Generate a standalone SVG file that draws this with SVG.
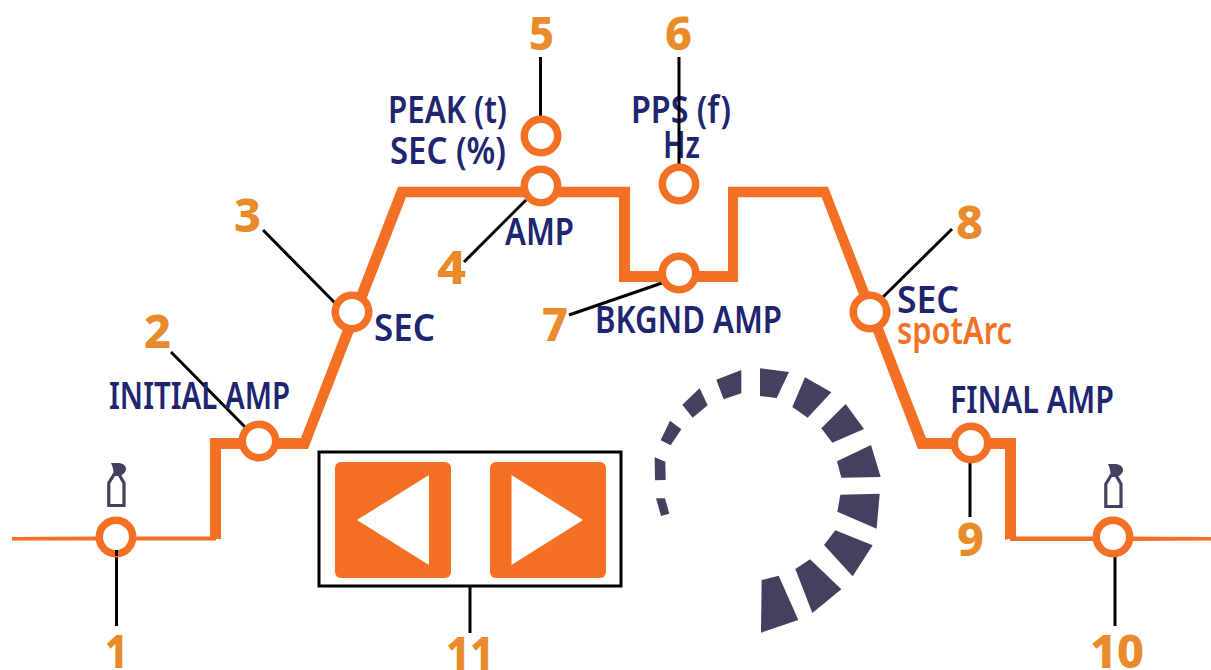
<svg xmlns="http://www.w3.org/2000/svg" xmlns:xlink="http://www.w3.org/1999/xlink" width="1211" height="670" viewBox="0 0 1211 670">
<style>
.lbl{font-family:"Noto Sans","Liberation Sans",sans-serif;font-weight:600;font-size:38px;fill:#20256f}
.org{fill:#f47024}
.num{font-family:"Noto Sans","Liberation Sans",sans-serif;font-weight:800;font-size:47px;fill:#e98b2a}
.ring{fill:#fff;stroke:#f47024;stroke-width:7.500}
.lead{stroke:#000;stroke-width:3;fill:none}
.dial polygon{fill:#463f60}
</style>
<defs>
<g id="bottle">
<path d="M108.800 505.500V483L114 474.500H119L124 483V505.500Z" fill="#fff" stroke="#463f60" stroke-width="3.200"/>
<path d="M111 463H119Q126 464 126 469Q126 473 120 476H113.500Q114 469 111 463Z" fill="#463f60"/>
</g>
</defs>
<g id="trace">
<path class="org" d="M12 537L100 536.500V540.500L12 540.500Z"/>
<path class="org" d="M130 536.500H216V540.500H130Z"/>
<path class="org" d="M1010 536.500H1100V541H1010Z"/>
<path class="org" d="M1125 536.500L1211 537V540.500L1125 541Z"/>
<path class="org" d="M210 539V438H301L398 186.700H630V271H728V186.700H828L926 438H1016V537L1005 540V449H918L821.700 197.300H738V282H619V197.300H406L308 449H221V539Z"/>
</g>
<g id="connectors">
<path class="lead" d="M116.500 550V626"/>
<path class="lead" d="M171 352L246 428"/>
<path class="lead" d="M263 230L335 303"/>
<path class="lead" d="M464 262L526 200"/>
<path class="lead" d="M540.500 57V117"/>
<path class="lead" d="M569 315L662 283"/>
<path class="lead" d="M879 301L952 229"/>
<path class="lead" d="M970 462V517"/>
<path class="lead" d="M1115 556V626"/>
<path class="lead" d="M470 587V633"/>
</g>
<g id="node-1"><circle class="ring" cx="116" cy="537" r="16.700"/><path class="lead" d="M116.500 550V556"/><use xlink:href="#bottle" href="#bottle"/><text class="num" x="105" y="668" textLength="23" lengthAdjust="spacingAndGlyphs">1</text></g>
<g id="node-2"><circle class="ring" cx="259" cy="441" r="16.700"/><text class="lbl" x="109" y="409" textLength="181" lengthAdjust="spacingAndGlyphs">INITIAL AMP</text><text class="num" x="144" y="348" textLength="27" lengthAdjust="spacingAndGlyphs">2</text></g>
<g id="node-3"><circle class="ring" cx="352" cy="312" r="16.700"/><text class="lbl" x="374" y="341" textLength="61" lengthAdjust="spacingAndGlyphs">SEC</text><text class="num" x="234" y="232" textLength="27" lengthAdjust="spacingAndGlyphs">3</text></g>
<g id="node-4"><circle class="ring" cx="541" cy="186" r="16.700"/><text class="lbl" x="505" y="245" textLength="69" lengthAdjust="spacingAndGlyphs">AMP</text><text class="num" x="437" y="284" textLength="29" lengthAdjust="spacingAndGlyphs">4</text></g>
<g id="node-5"><circle class="ring" cx="541" cy="136" r="16.700"/><text class="lbl" x="388" y="123" textLength="119" lengthAdjust="spacingAndGlyphs">PEAK (t)</text><text class="lbl" x="390" y="164" textLength="116" lengthAdjust="spacingAndGlyphs">SEC (%)</text><text class="num" x="529" y="50" textLength="25" lengthAdjust="spacingAndGlyphs">5</text></g>
<g id="node-6"><text class="lbl" x="631" y="123" textLength="100" lengthAdjust="spacingAndGlyphs">PPS (f)</text><text class="lbl" x="663" y="158" textLength="37" lengthAdjust="spacingAndGlyphs">Hz</text><path class="lead" d="M679 57V164"/><circle class="ring" cx="679" cy="184" r="16.700"/><text class="num" x="665" y="50" textLength="27" lengthAdjust="spacingAndGlyphs">6</text></g>
<g id="node-7"><circle class="ring" cx="679" cy="273" r="16.700"/><text class="lbl" x="595" y="333" textLength="187" lengthAdjust="spacingAndGlyphs">BKGND AMP</text><text class="num" x="542" y="341" textLength="26" lengthAdjust="spacingAndGlyphs">7</text></g>
<g id="node-8"><circle class="ring" cx="870" cy="312" r="16.700"/><text class="lbl" x="897" y="313" textLength="62" lengthAdjust="spacingAndGlyphs">SEC</text><text class="lbl" x="897" y="344" textLength="115" lengthAdjust="spacingAndGlyphs" style="fill:#f47024">spotArc</text><text class="num" x="956" y="239" textLength="27" lengthAdjust="spacingAndGlyphs">8</text></g>
<g id="node-9"><circle class="ring" cx="971" cy="443" r="16.700"/><text class="lbl" x="950" y="413" textLength="164" lengthAdjust="spacingAndGlyphs">FINAL AMP</text><text class="num" x="957" y="556" textLength="27" lengthAdjust="spacingAndGlyphs">9</text></g>
<g id="node-10"><circle class="ring" cx="1113" cy="537" r="16.700"/><use xlink:href="#bottle" href="#bottle" x="997" y="1"/><text class="num" x="1090" y="668" textLength="54" lengthAdjust="spacingAndGlyphs">10</text></g>
<g id="node-11">
<rect x="319" y="452" width="302" height="134" fill="none" stroke="#000" stroke-width="3"/>
<rect class="org" x="335" y="462" width="116" height="116" rx="6"/>
<polygon points="357,520 429,475 429,565" fill="#fff"/>
<rect class="org" x="490" y="462" width="116" height="116" rx="6"/>
<polygon points="511.500,475 583,520 511.500,565" fill="#fff"/>
<text class="num" x="446" y="670" textLength="48" lengthAdjust="spacingAndGlyphs">11</text>
</g>
<g id="dial" class="dial" transform="translate(630 350) scale(0.33333)">
<polygon points="78,445 105,445 118,491 93,498"/>
<polygon points="74,322 106,335 107,390 75,391"/>
<polygon points="120,212 154,238 122,286 92,271"/>
<polygon points="209,115 233,166 188,203 157,164"/>
<polygon points="334,60 334,130 281,148 259,89"/>
<polygon points="390,55 477,66 440,144 390,138"/>
<polygon points="525,82 604,127 533,203 487,171"/>
<polygon points="647,162 702,237 607,278 574,235"/>
<polygon points="723,285 752,381 634,383 621,334"/>
<polygon points="631,434 749,431 740,536 622,485"/>
<polygon points="616,541 728,586 668,679 582,585"/>
<polygon points="540,628 634,718 547,789 496,657"/>
<polygon points="446,677 505,810 393,848 395,690"/>
</g>
</svg>
